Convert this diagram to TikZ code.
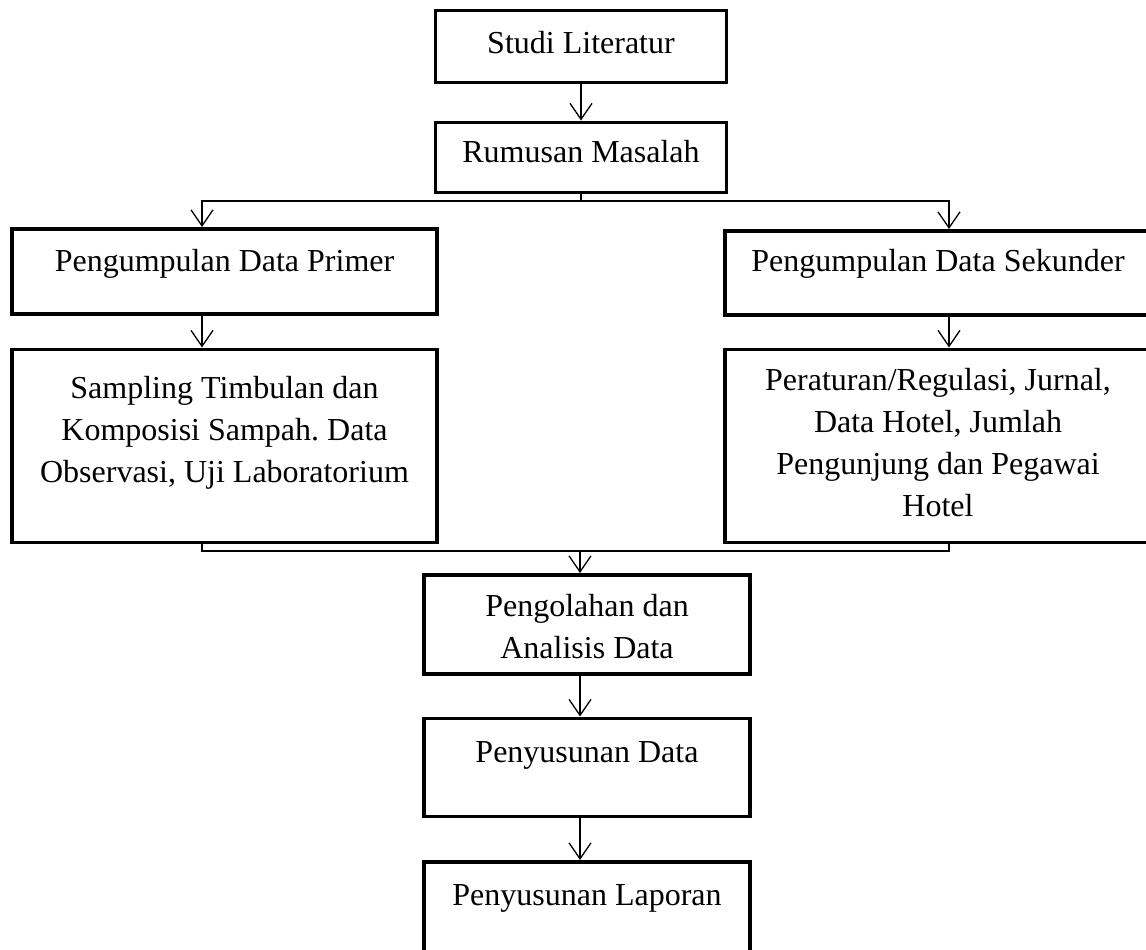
\documentclass[tikz,border=0pt]{standalone}
\usepackage{fontspec}
\setmainfont{Liberation Serif}
\usetikzlibrary{arrows.meta, positioning}
\frenchspacing

\begin{document}
\begin{tikzpicture}[> = {Straight Barb[length=16pt, width=22pt]}, % open arrow head
                x = 1pt, y = -1pt, % measured from the top left corner
                line width = 1.3pt % connector line
            ]

            \tikzstyle{every node}=[draw = black, line width = 3.5pt, inner sep = 0pt,
            align = center, font = \fontsize{32pt}{42pt}\selectfont, text height = 43pt]

            \useasboundingbox (0,0) rectangle (1146,950);

            \node (studi) [anchor=north, minimum width=291pt, text depth=29pt] at (581,9) {Studi Literatur};
            \node (rumusan) [below=36pt of studi, minimum width=291pt, text height=40pt,
                text depth=30pt] {Rumusan Masalah};
            \node (primer) [anchor=north, minimum width=425pt, text depth=42pt] at (224.5,227)
                {Pengumpulan Data Primer};
            \node (sekunder) [anchor=north, minimum width=426pt, text height=41pt,
                text depth=43pt] at (938,229) {Pengumpulan Data Sekunder};
            \node (sampling) [below=32pt of primer, minimum width=425pt, text height=133pt,
                text depth=60pt] {Sampling Timbulan dan\\Komposisi Sampah. Data\\Observasi, Uji Laboratorium};
            \node (peraturan) [below=31pt of sekunder, minimum width=426pt, text height=167pt,
                text depth=26pt] {Peraturan/Regulasi, Jurnal,\\Data Hotel, Jumlah\\Pengunjung dan Pegawai\\Hotel};
            \node (olah) [anchor=north, minimum width=326pt, text height=84pt, text depth=15pt]
                at (587,573) {Pengolahan dan\\Analisis Data};
            \node (data) [below=41pt of olah, minimum width=326pt, text height=44pt,
                text depth=54pt] {Penyusunan Data};
            \node (laporan) [below=42pt of data, minimum width=326pt, text height=44pt,
                text depth=55pt] {Penyusunan Laporan};

            \coordinate (split) at (581,201); \coordinate (join) at (580,551);

            \path[->] (studi) edge (rumusan); \draw (rumusan.south) -- (split);
            \draw[->] (split) -| ([xshift=-22.5pt]primer.north); \draw[->] (split) -|
            ([xshift=11pt]sekunder.north); \draw[->] ([xshift=-22.5pt]primer.south) --
            ([xshift=-22.5pt]sampling.north); \draw[->] ([xshift=11pt]sekunder.south) --
            ([xshift=11pt]peraturan.north); \draw ([xshift=-22.5pt]sampling.south) |- (join)
            -| ([xshift=11pt]peraturan.south); \draw[->] (join) -- ([xshift=-7pt]olah.north);
            \draw[->] ([xshift=-7pt]olah.south) -- ([xshift=-7pt]data.north); \draw[->]
            ([xshift=-7pt]data.south) -- ([xshift=-7pt]laporan.north); \end{tikzpicture}
\end{document}
